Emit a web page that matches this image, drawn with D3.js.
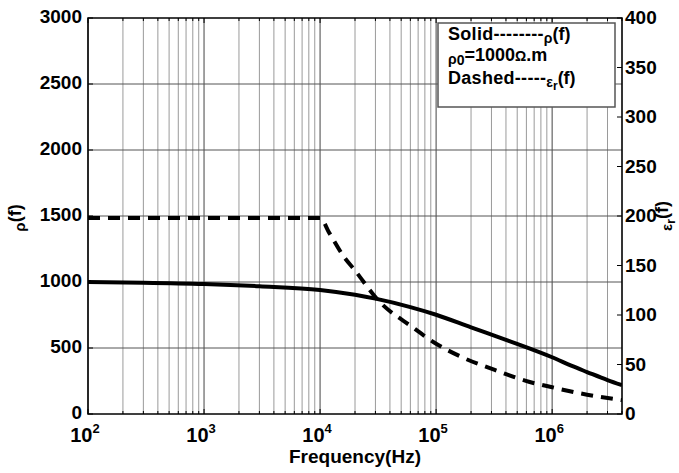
<!DOCTYPE html>
<html>
<head>
<meta charset="utf-8">
<script src="https://cdn.jsdelivr.net/npm/d3@7"></script>
<style>
  body { margin: 0; background: #fff; }
  text { font-family: "Liberation Sans", Arial, sans-serif; font-weight: bold; fill: #000; }
</style>
</head>
<body>
<div id="canvas"></div>
<script>
// values
const rhoFreq = [100, 300, 1000, 3000, 10000, 20000, 30000, 60000, 100000, 200000, 400000, 1000000, 1500000, 2000000, 3000000, 4000000];
const rhoVal = [1000, 995, 985, 968, 940, 903, 874, 810, 752, 656, 562, 430, 362, 318, 257, 218];

const epsFreq = [100, 1000, 10000, 12000, 16000, 20000, 31600, 62000, 100000, 170000, 320000, 630000, 1000000, 2000000, 4000000];
const epsVal = [198, 198, 198, 183, 159, 145, 115, 88, 71, 57, 44.5, 32.6, 27, 19.5, 14];

const leftTicks = [0, 500, 1000, 1500, 2000, 2500, 3000];
const rightTicks = [0, 50, 100, 150, 200, 250, 300, 350, 400];
const decades = [2, 3, 4, 5, 6];

const W = 679, H = 473;
const pLeft = 88, pRight = 622, pTop = 18, pBottom = 414;

const svg = d3.select("#canvas")
  .append("svg")
  .attr("width", W)
  .attr("height", H);

svg.append("rect").attr("width", W).attr("height", H).attr("fill", "#fff");

const x = d3.scaleLog().domain([100, 4e6]).range([pLeft, pRight]);
const yL = d3.scaleLinear().domain([0, 3000]).range([pBottom, pTop]);
const yR = d3.scaleLinear().domain([0, 400]).range([pBottom, pTop]);

// all log ticks (major + minor)
let xTicks = [];
decades.forEach(function(d) {
  for (let k = 1; k <= 9; k++) {
    let f = k * Math.pow(10, d);
    if (f <= 4e6) xTicks.push({ f: f, major: k == 1 });
  }
});

// grid
svg.append("g").selectAll("line")
  .data(xTicks)
  .enter().append("line")
  .attr("x1", d => x(d.f)).attr("x2", d => x(d.f))
  .attr("y1", pTop).attr("y2", pBottom)
  .attr("stroke", d => d.major ? "#444" : "#9a9a9a")
  .attr("stroke-width", 1);

svg.append("g").selectAll("line")
  .data(leftTicks.slice(1, -1))
  .enter().append("line")
  .attr("x1", pLeft).attr("x2", pRight)
  .attr("y1", d => yL(d)).attr("y2", d => yL(d))
  .attr("stroke", "#555")
  .attr("stroke-width", 1);

// curves
svg.append("clipPath").attr("id", "clip")
  .append("rect").attr("x", pLeft).attr("y", pTop)
  .attr("width", pRight - pLeft).attr("height", pBottom - pTop);

const rhoLine = d3.line()
  .x((d, i) => x(rhoFreq[i]))
  .y(d => yL(d))
  .curve(d3.curveMonotoneX);

const epsLine = d3.line()
  .x((d, i) => x(epsFreq[i]))
  .y(d => yR(d))
  .curve(d3.curveMonotoneX);

svg.append("path")
  .attr("d", rhoLine(rhoVal))
  .attr("clip-path", "url(#clip)")
  .attr("fill", "none")
  .attr("stroke", "#000")
  .attr("stroke-width", 4);

svg.append("path")
  .attr("d", epsLine(epsVal))
  .attr("clip-path", "url(#clip)")
  .attr("fill", "none")
  .attr("stroke", "#000")
  .attr("stroke-width", 4)
  .attr("stroke-dasharray", "12,8");

// box
svg.append("rect")
  .attr("x", pLeft).attr("y", pTop)
  .attr("width", pRight - pLeft).attr("height", pBottom - pTop)
  .attr("fill", "none").attr("stroke", "#000").attr("stroke-width", 1.5);

// x ticks, bottom and top, pointing inwards
const tk = svg.append("g").attr("stroke", "#000").attr("stroke-width", 1);
xTicks.forEach(function(d) {
  let len = d.major ? 5 : 3;
  tk.append("line").attr("x1", x(d.f)).attr("x2", x(d.f)).attr("y1", pBottom).attr("y2", pBottom - len);
  tk.append("line").attr("x1", x(d.f)).attr("x2", x(d.f)).attr("y1", pTop).attr("y2", pTop + len);
});
leftTicks.forEach(function(d) {
  tk.append("line").attr("x1", pLeft).attr("x2", pLeft + 5).attr("y1", yL(d)).attr("y2", yL(d));
});
rightTicks.forEach(function(d) {
  tk.append("line").attr("x1", pRight).attr("x2", pRight - 5).attr("y1", yR(d)).attr("y2", yR(d));
});

// tick labels
svg.append("g").selectAll("text")
  .data(leftTicks)
  .enter().append("text")
  .attr("x", pLeft - 6)
  .attr("y", d => yL(d) + 5)
  .attr("text-anchor", "end")
  .attr("font-size", 19)
  .text(d => d);

svg.append("g").selectAll("text")
  .data(rightTicks)
  .enter().append("text")
  .attr("x", pRight + 3)
  .attr("y", d => yR(d) + 6)
  .attr("text-anchor", "start")
  .attr("font-size", 19)
  .text(d => d);

decades.forEach(function(d) {
  let t = svg.append("text")
    .attr("x", x(Math.pow(10, d)) - 3)
    .attr("y", 442)
    .attr("text-anchor", "middle")
    .attr("font-size", 20);
  t.append("tspan").text("10");
  t.append("tspan").attr("font-size", 13).attr("dy", -9).text(d);
});

// axis titles
svg.append("text")
  .attr("x", (pLeft + pRight) / 2)
  .attr("y", 463)
  .attr("text-anchor", "middle")
  .attr("font-size", 19)
  .text("Frequency(Hz)");

let yl = svg.append("text")
  .attr("transform", "translate(21,218) rotate(-90)")
  .attr("text-anchor", "middle")
  .attr("font-size", 18);
yl.append("tspan").attr("font-size", 15).attr("dy", 4).text("ρ");
yl.append("tspan").attr("dy", -4).text("(f)");

let yr = svg.append("text")
  .attr("transform", "translate(668,216) rotate(-90)")
  .attr("text-anchor", "middle")
  .attr("font-size", 18);
yr.append("tspan").attr("font-size", 15).attr("dy", 4).text("ε");
yr.append("tspan").attr("font-size", 12).attr("dy", 3).text("r");
yr.append("tspan").attr("dy", -7).text("(f)");

// legend box
svg.append("rect")
  .attr("x", 438).attr("y", 23)
  .attr("width", 177).attr("height", 84)
  .attr("fill", "#fff").attr("stroke", "#555").attr("stroke-width", 1.5);

let l1 = svg.append("text").attr("x", 448).attr("y", 40).attr("font-size", 18);
l1.append("tspan").attr("letter-spacing", 0.3).text("Solid--------");
l1.append("tspan").attr("font-size", 14).attr("dy", 3).text("ρ");
l1.append("tspan").attr("dy", -3).text("(f)");

let l2 = svg.append("text").attr("x", 448).attr("y", 61).attr("font-size", 18);
l2.append("tspan").attr("font-size", 14).attr("dy", 3).text("ρ");
l2.append("tspan").attr("font-size", 14).attr("dy", 1).text("0");
l2.append("tspan").attr("dy", -4).text("=1000");
l2.append("tspan").attr("font-size", 14).text("Ω");
l2.append("tspan").text(".m");

let l3 = svg.append("text").attr("x", 448).attr("y", 84).attr("font-size", 18);
l3.append("tspan").attr("letter-spacing", 0.3).text("Dashed-----");
l3.append("tspan").attr("font-size", 14).attr("dy", 3).text("ε");
l3.append("tspan").attr("font-size", 12).attr("dy", 3).text("r");
l3.append("tspan").attr("dy", -6).text("(f)");
</script>
</body>
</html>
